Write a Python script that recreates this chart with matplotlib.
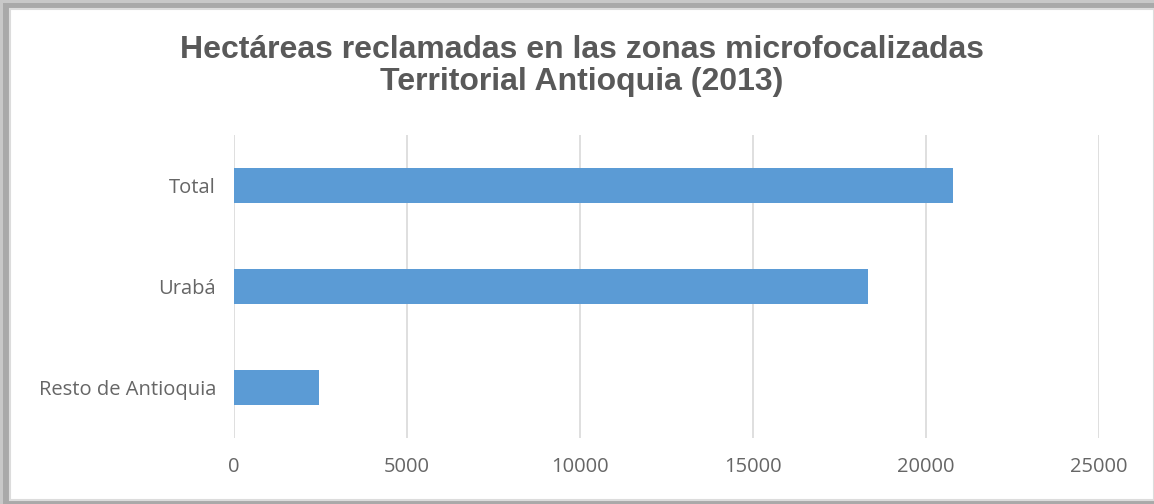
import matplotlib
matplotlib.use("Agg")
import matplotlib.pyplot as plt
from matplotlib.patches import Rectangle

categories = ["Resto de Antioquia", "Urabá", "Total"]
values = [2460, 18330, 20790]
xticks = [0, 5000, 10000, 15000, 20000, 25000]
title = "Hectáreas reclamadas en las zonas microfocalizadas\nTerritorial Antioquia (2013)"

fig = plt.figure(figsize=(11.54, 5.04), dpi=100)
fig.patch.set_facecolor("white")

# frame / shadow
fig.patches.append(Rectangle((0, 0), 1, 1, transform=fig.transFigure, facecolor="#c8c8c8", edgecolor="none", zorder=-3))
fig.patches.append(Rectangle((3/1154, 0), 1, 1 - 3/504, transform=fig.transFigure, facecolor="#a9a9a9", edgecolor="none", zorder=-2))
fig.patches.append(Rectangle((10/1154, 4/504), 1 - 10/1154, 1 - 13/504, transform=fig.transFigure, facecolor="white", edgecolor="#dcdcdc", linewidth=1.5, zorder=-1))

ax = fig.add_axes([234/1154, 1 - 438/504, (1099 - 234)/1154, (438 - 135)/504])
ax.barh(categories, values, height=0.35, color="#5b9bd5", zorder=3)
ax.set_xlim(0, 25000)
ax.set_ylim(-0.5, 2.5)
ax.set_xticks(xticks)
ax.set_xticklabels([str(t) for t in xticks])
ax.grid(axis="x", color="#d9d9d9", linewidth=1.2, zorder=0)
for s in ax.spines.values():
    s.set_visible(False)
ax.tick_params(axis="both", length=0, labelsize=14.5, labelcolor="#666666")
ax.tick_params(axis="x", pad=14)
ax.tick_params(axis="y", pad=13)
for lab in ax.get_xticklabels() + ax.get_yticklabels():
    lab.set_family(["Open Sans", "DejaVu Sans"])
ax.set_facecolor("none")

fig.text(0.5 + 5/1154, 1 - 66/504, title, ha="center", va="center", fontsize=23, color="#595959",
         family="Liberation Sans", weight="bold", linespacing=1.12)

fig.savefig("out.png", dpi=100)
